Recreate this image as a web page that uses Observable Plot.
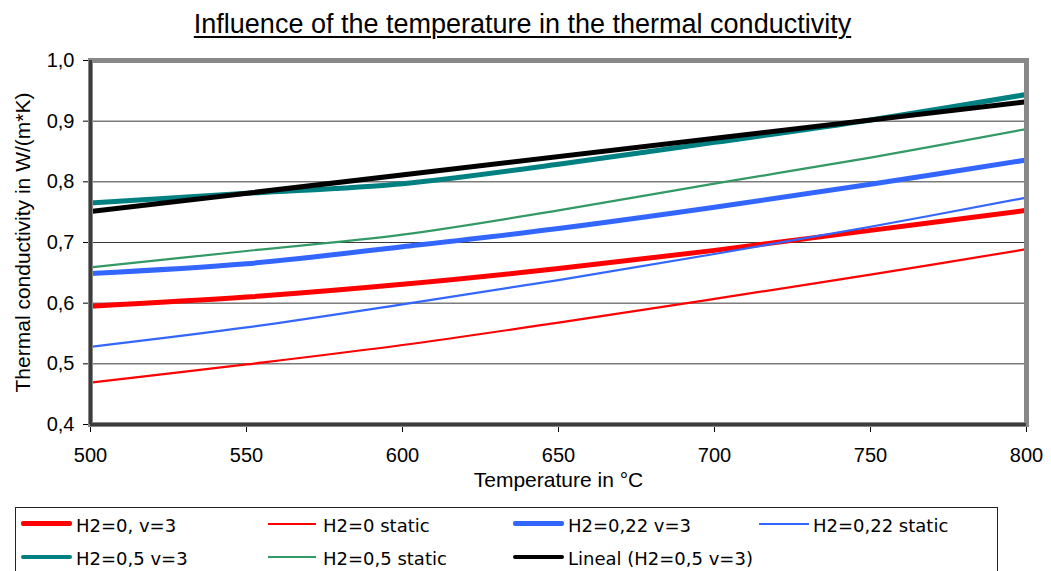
<!DOCTYPE html>
<html>
<head>
<meta charset="utf-8">
<script src="https://cdn.jsdelivr.net/npm/d3@7"></script>
<script src="https://cdn.jsdelivr.net/npm/@observablehq/plot@0.6"></script>
<style>
  html, body { margin: 0; padding: 0; background: #fff; }
  body { position: relative; width: 1051px; height: 571px; overflow: hidden; font-family: "Liberation Sans", Arial, sans-serif; }
  #title { position: absolute; left: 0; top: 9px; width: 1045px; text-align: center; font-size: 27px; line-height: 30px; text-decoration: underline; text-decoration-thickness: 2px; text-underline-offset: 3px; color: #000; }
  #chart { position: absolute; left: 0; top: 0; }
  #legend { position: absolute; left: 15px; top: 507px; width: 983px; height: 90px; border: 1px solid #222; box-sizing: border-box; }
  .sw { position: absolute; }
  .lt { position: absolute; font-family: "DejaVu Sans", sans-serif; font-size: 18px; line-height: 21px; white-space: nowrap; color: #000; }
</style>
</head>
<body>
<div id="chart"></div>
<div id="title">Influence of the temperature in the thermal conductivity</div>
<div id="legend"></div>
<script>
// ---- data ----
const temps = [500, 550, 600, 650, 700, 750, 800];
const h0_v3       = [0.595, 0.610, 0.631, 0.657, 0.687, 0.720, 0.753];
const h0_static   = [0.469, 0.499, 0.531, 0.568, 0.607, 0.647, 0.689];
const h022_v3     = [0.649, 0.665, 0.693, 0.723, 0.758, 0.796, 0.836];
const h022_static = [0.528, 0.560, 0.598, 0.638, 0.681, 0.726, 0.774];
const h05_v3      = [0.765, 0.781, 0.797, 0.829, 0.865, 0.902, 0.944];
const h05_static  = [0.659, 0.686, 0.713, 0.753, 0.797, 0.840, 0.887];
const trendTemps  = [500, 800];
const trendVals   = [0.751, 0.932];

const xTicks = [500, 550, 600, 650, 700, 750, 800];
const yTicks = [0.4, 0.5, 0.6, 0.7, 0.8, 0.9, 1.0];

const seriesNames = ["H2=0, v=3", "H2=0 static", "H2=0,22 v=3", "H2=0,22 static",
                     "H2=0,5 v=3", "H2=0,5 static", "Lineal (H2=0,5 v=3)"];
const seriesColors = ["#ff0000", "#ff0000", "#3366ff", "#3366ff", "#008080", "#339966", "#000000"];
const seriesWidths = [5, 2.2, 5, 2.2, 5, 2.2, 5];

const seriesData = [
  [temps, h0_v3], [temps, h0_static], [temps, h022_v3], [temps, h022_static],
  [temps, h05_v3], [temps, h05_static], [trendTemps, trendVals]
];

const rows = seriesData.map(([xs, ys]) => xs.map((t, i) => ({t, v: ys[i]})));

const lineMarks = rows.map((r, i) =>
  Plot.line(r, {x: "t", y: "v", stroke: seriesColors[i], strokeWidth: seriesWidths[i],
    curve: i === 6 ? "linear" : "catmull-rom", strokeLinejoin: "round", strokeLinecap: "butt"})
);

const innerY = yTicks.slice(1, -1);

const chart = Plot.plot({
  width: 1051,
  height: 500,
  marginLeft: 90,
  marginRight: 25,
  marginTop: 60,
  marginBottom: 76,
  style: {fontFamily: "Liberation Sans, Arial, sans-serif", fontSize: "20px", color: "#000", background: "transparent", overflow: "visible"},
  x: {domain: [xTicks[0], xTicks[xTicks.length - 1]], ticks: xTicks, tickSize: 8, tickPadding: 15, label: null},
  y: {domain: [yTicks[0], yTicks[yTicks.length - 1]], ticks: yTicks, tickSize: 7, tickPadding: 9, label: null,
      tickFormat: d => d.toFixed(1).replace(".", ",")},
  marks: [
    Plot.ruleY(innerY, {stroke: "#3a3a3a", strokeWidth: 1}),
    ...lineMarks,
    Plot.frame({stroke: "#888888", strokeWidth: 5}),
    Plot.ruleX([xTicks[0]], {stroke: "#3c3c3c", strokeWidth: 3}),
    Plot.ruleY([yTicks[0]], {stroke: "#3c3c3c", strokeWidth: 3}),
    Plot.text(["Temperature in °C"], {frameAnchor: "bottom", lineAnchor: "middle", textAnchor: "middle", dy: 56, fontSize: 21}),
    Plot.text(["Thermal conductivity in W/(m*K)"], {frameAnchor: "left", textAnchor: "middle", lineAnchor: "middle", rotate: -90, dx: -67, fontSize: 21})
  ]
});
document.getElementById("chart").appendChild(chart);

// ---- legend ----
const legend = document.getElementById("legend");
const colX = [21, 268, 513, 759];
const textX = [76, 323, 568, 813];
const swEnd = [72, 316, 564, 809];
const rowSwY = [523.7, 557];
const rowTextTop = [514.8, 548];
seriesNames.forEach((name, i) => {
  const c = i % 4, r = Math.floor(i / 4);
  const sw = document.createElement("div");
  sw.className = "sw";
  const w = seriesWidths[i] > 3 ? 4.5 : 2;
  sw.style.left = (colX[c] - 16) + "px";
  sw.style.width = (swEnd[c] - colX[c]) + "px";
  sw.style.top = (rowSwY[r] - 507 - 1 - w / 2) + "px";
  sw.style.height = w + "px";
  sw.style.background = seriesColors[i];
  if (w > 3) sw.style.borderRadius = "2px";
  legend.appendChild(sw);
  const t = document.createElement("div");
  t.className = "lt";
  t.textContent = name;
  t.style.left = (textX[c] - 16) + "px";
  t.style.top = (rowTextTop[r] - 507 - 1) + "px";
  legend.appendChild(t);
});
</script>
</body>
</html>
